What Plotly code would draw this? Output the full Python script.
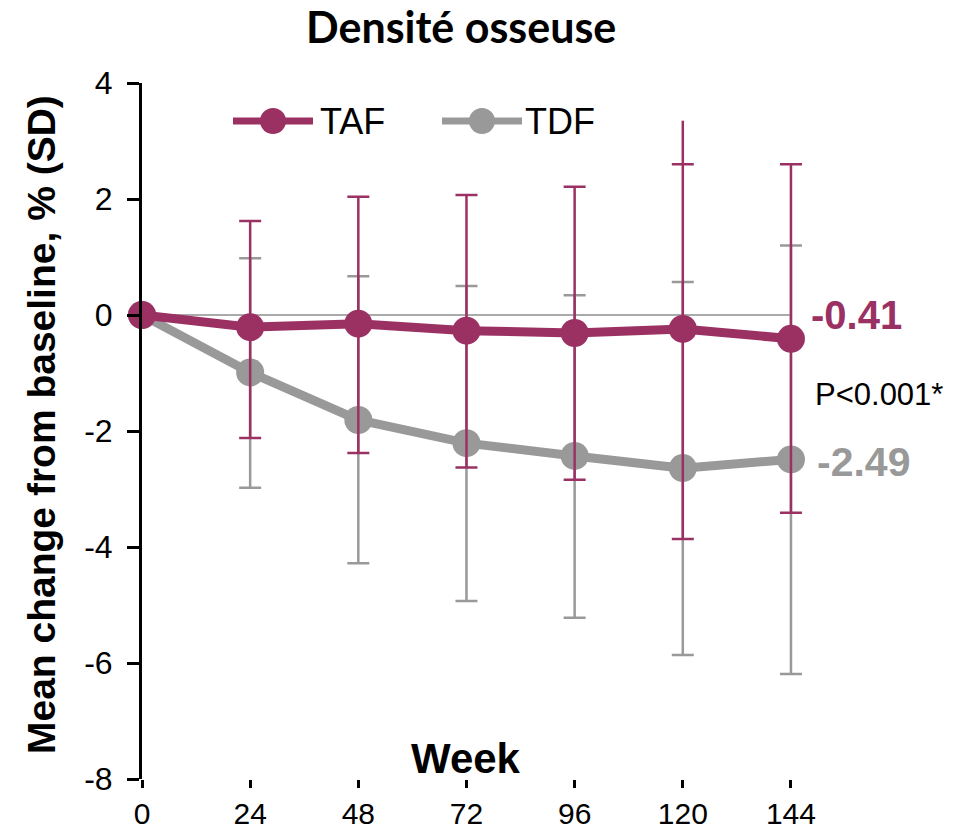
import plotly.graph_objects as go

# ---------------- data ----------------
weeks = [0, 24, 48, 72, 96, 120, 144]
week_ticks = [0, 24, 48, 72, 96, 120, 144]
y_ticks = [-8, -6, -4, -2, 0, 2, 4]

taf_mean = [0.0, -0.21, -0.15, -0.27, -0.31, -0.24, -0.41]
taf_upper = [0.0, 1.62, 2.04, 2.07, 2.21, 2.60, 2.60]
taf_lower = [0.0, -2.12, -2.38, -2.63, -2.84, -3.86, -3.41]

tdf_mean = [0.0, -0.99, -1.81, -2.21, -2.43, -2.64, -2.49]
tdf_upper = [0.0, 0.98, 0.67, 0.50, 0.34, 0.57, 1.20]
tdf_lower = [0.0, -2.98, -4.28, -4.93, -5.22, -5.86, -6.19]

# stray whisker extension drawn above the TAF cap at week 120
taf_ext_week = [120, 120]
taf_ext_y = [2.60, 3.35]

taf_label = "-0.41"
tdf_label = "-2.49"
p_label = "P<0.001*"

# ---------------- style ----------------
TAF_C = "#9b3163"
TDF_C = "#999999"
FONT = "Liberation Sans, Arial, sans-serif"

W, H = 966, 829
X_MAX = 150  # axis range end (a little past the last week so error caps aren't clipped)
L, T, B = 142, 83, 50
X_PIX_0, X_PIX_144 = 142, 791
PW = (X_PIX_144 - X_PIX_0) * X_MAX / 144.0
R = W - L - PW
PH = H - T - B


def px(xp):
    return (xp - L) / PW


def py(yp):
    return (H - B - yp) / PH


fig = go.Figure()

# TDF
fig.add_trace(go.Scatter(
    x=weeks, y=tdf_mean, mode="lines+markers", name="TDF",
    line=dict(color=TDF_C, width=9),
    marker=dict(color=TDF_C, size=28),
    error_y=dict(type="data", symmetric=False,
                 array=[u - m for u, m in zip(tdf_upper, tdf_mean)],
                 arrayminus=[m - l for l, m in zip(tdf_lower, tdf_mean)],
                 color=TDF_C, thickness=2.5, width=11),
    cliponaxis=False, showlegend=False,
))

# TAF whisker extension
fig.add_trace(go.Scatter(
    x=taf_ext_week, y=taf_ext_y, mode="lines",
    line=dict(color=TAF_C, width=2.5), cliponaxis=False, showlegend=False,
))

# TAF
fig.add_trace(go.Scatter(
    x=weeks, y=taf_mean, mode="lines+markers", name="TAF",
    line=dict(color=TAF_C, width=9),
    marker=dict(color=TAF_C, size=28),
    error_y=dict(type="data", symmetric=False,
                 array=[u - m for u, m in zip(taf_upper, taf_mean)],
                 arrayminus=[m - l for l, m in zip(taf_lower, taf_mean)],
                 color=TAF_C, thickness=2.5, width=11),
    cliponaxis=False, showlegend=False,
))

shapes = [
    # zero reference line
    dict(type="line", xref="x", yref="y", x0=weeks[0], x1=weeks[-1], y0=0, y1=0,
         line=dict(color="#aaaaaa", width=2), layer="below"),
]

# manual legend
legend_items = [("TAF", TAF_C, 233, 313, 318), ("TDF", TDF_C, 442, 522, 523)]
annotations = []
for name, col, x0, x1, xt in legend_items:
    shapes.append(dict(type="line", xref="paper", yref="paper",
                       x0=px(x0), x1=px(x1), y0=py(121), y1=py(121),
                       line=dict(color=col, width=7)))
    xm = px((x0 + x1) / 2)
    shapes.append(dict(type="circle", xref="paper", yref="paper",
                       xsizemode="pixel", ysizemode="pixel",
                       xanchor=xm, yanchor=py(121),
                       x0=-13, x1=13, y0=-13, y1=13,
                       fillcolor=col, line=dict(width=0)))
    annotations.append(dict(xref="paper", yref="paper", x=px(xt), y=py(122),
                            xanchor="left", yanchor="middle", showarrow=False,
                            text=name, font=dict(family=FONT, size=36, color="black")))

annotations += [
    dict(xref="paper", yref="y", x=px(809), y=taf_mean[-1], yshift=24,
         xanchor="left", yanchor="middle", showarrow=False,
         text=f"<b>{taf_label}</b>", font=dict(family=FONT, size=40, color=TAF_C)),
    dict(xref="paper", yref="y", x=px(815), y=tdf_mean[-1], yshift=-3,
         xanchor="left", yanchor="middle", showarrow=False,
         text=f"<b>{tdf_label}</b>", font=dict(family=FONT, size=41, color=TDF_C)),
    dict(xref="paper", yref="paper", x=px(813), y=py(394),
         xanchor="left", yanchor="middle", showarrow=False,
         text=p_label, font=dict(family=FONT, size=31, color="black")),
    dict(xref="paper", yref="paper", x=px(466), y=py(758),
         xanchor="center", yanchor="middle", showarrow=False,
         text="<b>Week</b>", font=dict(family=FONT, size=42, color="black")),
    dict(xref="paper", yref="paper", x=px(41), y=py(425),
         xanchor="center", yanchor="middle", showarrow=False, textangle=-90,
         text="<b>Mean change from baseline, % (SD)</b>",
         font=dict(family=FONT, size=39, color="black")),
    dict(xref="paper", yref="paper", x=px(461), y=py(26),
         xanchor="center", yanchor="middle", showarrow=False,
         text="<b>Densité osseuse</b>",
         font=dict(family="Lato, sans-serif", size=43, color="black")),
]

fig.update_layout(
    width=W, height=H,
    margin=dict(l=L, r=R, t=T, b=B, pad=0, autoexpand=False),
    paper_bgcolor="white", plot_bgcolor="white",
    showlegend=False,
    shapes=shapes,
    annotations=annotations,
    xaxis=dict(range=[0, X_MAX], tickvals=week_ticks, ticktext=[str(v) for v in week_ticks],
               automargin=False,
               showgrid=False, zeroline=False, showline=False,
               ticks="outside", ticklen=8, tickwidth=3, tickcolor="black",
               tickfont=dict(family=FONT, size=30, color="black")),
    yaxis=dict(range=[-8, 4], tickvals=y_ticks, ticktext=[str(v) for v in y_ticks],
               automargin=False,
               showgrid=False, zeroline=False, showline=True, linecolor="black", linewidth=3,
               ticks="outside", ticklen=12, tickwidth=3, tickcolor="black",
               ticklabelstandoff=8,
               tickfont=dict(family=FONT, size=32, color="black")),
)

fig.write_html("out.html")
